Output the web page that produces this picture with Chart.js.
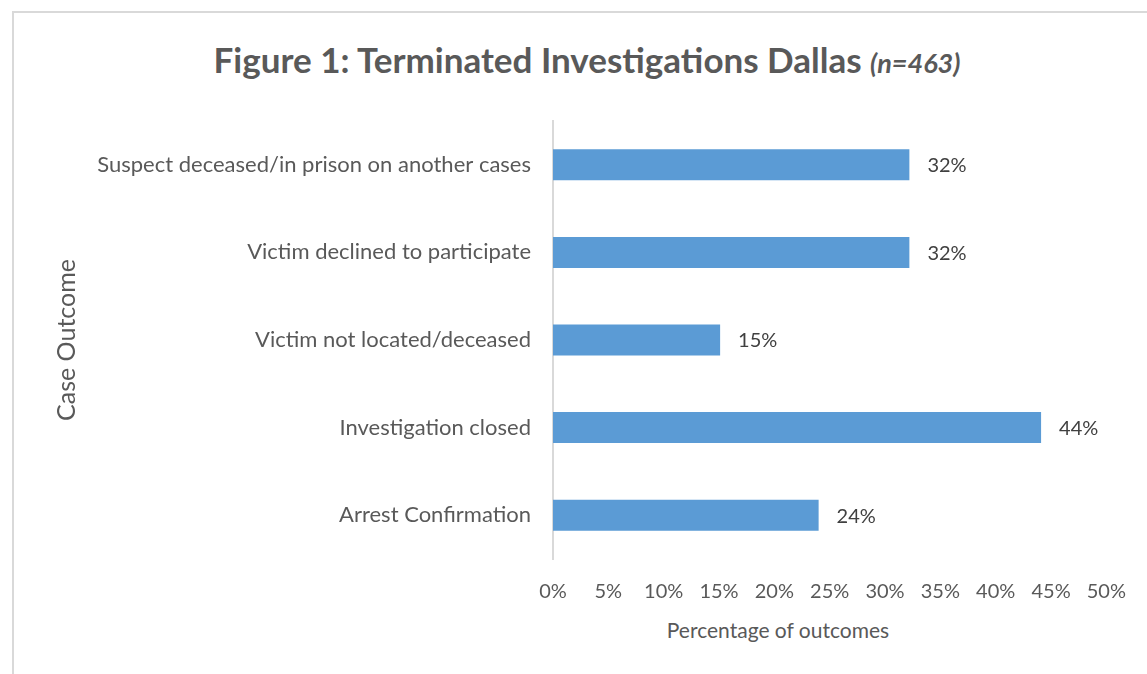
<!DOCTYPE html>
<html>
<head>
<meta charset="utf-8">
<script src="https://cdn.jsdelivr.net/npm/chart.js@4"></script>
<style>
    body { margin: 0; background: #ffffff; }
    #wrap { position: relative; width: 1147px; height: 674px; overflow: hidden; }
    #frame {
        position: absolute; left: 12px; top: 11px; width: 1200px; height: 700px;
        border-top: 2px solid #d9d9d9; border-left: 2px solid #d9d9d9;
    }
    #title {
        position: absolute; left: 0; top: 38px; width: 1174px; text-align: center;
        font-family: Lato, sans-serif; font-weight: bold; font-size: 35px; color: #595959;
        white-space: nowrap;
    }
    #title i { font-size: 27px; }
    #xTitle {
        position: absolute; left: 0; top: 617px; width: 1556px; text-align: center;
        font-family: Lato, sans-serif; font-size: 21px; color: #595959;
    }
    canvas { position: absolute; left: 0; top: 0; }
</style>
</head>
<body>
<div id="wrap">
    <div id="frame"></div>
    <div id="title">Figure 1: Terminated Investigations Dallas <i>(n=463)</i></div>
    <div id="xTitle">Percentage of outcomes</div>
    <canvas id="outcomeChart" width="1147" height="674"></canvas>
</div>
<script>
// Chart data
const categories = [
    'Suspect deceased/in prison on another cases',
    'Victim declined to participate',
    'Victim not located/deceased',
    'Investigation closed',
    'Arrest Confirmation'
];
const percentages = [32.2, 32.2, 15.1, 44.1, 24.0];
const xTicks = [0, 5, 10, 15, 20, 25, 30, 35, 40, 45, 50];

const textColor = '#595959';
const fontFamily = 'Lato, sans-serif';

// Value labels at the end of each bar
const barLabels = {
    id: 'barLabels',
    afterDatasetsDraw(chart) {
        const ctx = chart.ctx;
        const meta = chart.getDatasetMeta(0);
        ctx.save();
        ctx.font = '20px ' + fontFamily;
        ctx.fillStyle = '#404040';
        ctx.textAlign = 'left';
        ctx.textBaseline = 'middle';
        meta.data.forEach((bar, i) => {
            ctx.fillText(Math.round(percentages[i]) + '%', bar.x + 18, bar.y + 1);
        });
        ctx.restore();
    }
};

new Chart(document.getElementById('outcomeChart'), {
    type: 'bar',
    data: {
        labels: categories,
        datasets: [{
            data: percentages,
            backgroundColor: '#5b9bd5',
            borderWidth: 0,
            barPercentage: 1,
            categoryPercentage: 0.354
        }]
    },
    options: {
        indexAxis: 'y',
        responsive: false,
        animation: false,
        layout: { padding: { top: 121, left: 12, right: 40, bottom: 0 } },
        plugins: {
            legend: { display: false },
            tooltip: { enabled: false }
        },
        scales: {
            x: {
                min: 0,
                max: 50,
                afterFit(scale) { scale.height = 115; },
                afterBuildTicks(scale) { scale.ticks = xTicks.map(v => ({ value: v })); },
                grid: { display: false, drawTicks: false },
                border: { display: false },
                ticks: {
                    padding: 21,
                    color: textColor,
                    font: { family: fontFamily, size: 20 },
                    callback: v => v + '%'
                }
            },
            y: {
                afterFit(scale) { scale.width = 541; },
                grid: { display: false, drawTicks: false },
                border: { display: true, color: '#d9d9d9', width: 2 },
                ticks: {
                    padding: 22,
                    color: textColor,
                    font: { family: fontFamily, size: 22 }
                },
                title: {
                    display: true,
                    text: 'Case Outcome',
                    color: textColor,
                    font: { family: fontFamily, size: 25 },
                    padding: { top: 40, bottom: 0 }
                }
            }
        }
    },
    plugins: [barLabels]
});
</script>
</body>
</html>
